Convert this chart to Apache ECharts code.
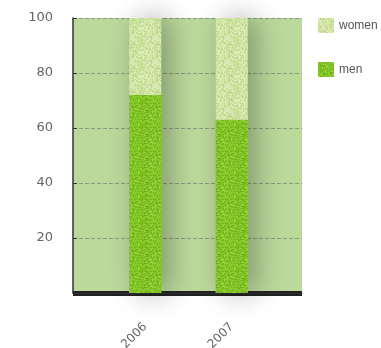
<!DOCTYPE html>
<html>
<head>
<meta charset="utf-8">
<script src="https://cdn.jsdelivr.net/npm/echarts@6/dist/echarts.min.js"></script>
<style>
html,body{margin:0;padding:0;background:#fff;}
#chart{width:381px;height:348px;}
</style>
</head>
<body>
<div id="chart"></div>
<script>
var categories = ['2006', '2007'];
var menValues = [72, 63];
var womenValues = [28, 37];
var seriesNames = ['women', 'men'];
var yTicks = [20, 40, 60, 80, 100];

function makeTexture(base, light, dark, seed) {
  var c = document.createElement('canvas');
  c.width = 24; c.height = 24;
  var ctx = c.getContext('2d');
  ctx.fillStyle = base;
  ctx.fillRect(0, 0, 24, 24);
  var s = seed;
  function rnd() { s = (s * 9301 + 49297) % 233280; return s / 233280; }
  for (var y = 0; y < 24; y++) {
    for (var x = 0; x < 24; x++) {
      var r = rnd();
      if (r < 0.25) { ctx.fillStyle = light; ctx.fillRect(x, y, 1, 1); }
      else if (r > 0.78) { ctx.fillStyle = dark; ctx.fillRect(x, y, 1, 1); }
    }
  }
  return c;
}
var menTex = makeTexture('#7dc220', '#9ad23c', '#6aae18', 7);
var womenTex = makeTexture('#cfe3a2', '#e2eec0', '#b9d886', 13);

var chart = echarts.init(document.getElementById('chart'), null, {renderer: 'canvas'});
var labelFont = 'DejaVu Sans';
chart.setOption({
  animation: false,
  legend: {
    orient: 'vertical',
    left: 313, top: 13,
    itemWidth: 16, itemHeight: 15, itemGap: 29,
    icon: 'rect',
    data: seriesNames,
    textStyle: {fontFamily: 'Liberation Sans', fontSize: 12, color: '#555'}
  },
  grid: [
    {left: 73, right: 79, top: 18, bottom: 55, show: true, backgroundColor: '#bcd99c', borderWidth: 0, outerBoundsMode: 'none', containLabel: false},
    {left: 102, right: 106, top: 18, bottom: 55, outerBoundsMode: 'none', containLabel: false}
  ],
  xAxis: [
    {gridIndex: 0, type: 'value', min: 0, max: 1, offset: 2.5,
     axisLine: {show: true, lineStyle: {color: '#222', width: 5, cap: 'butt'}},
     axisTick: {show: false}, axisLabel: {show: false}, splitLine: {show: false}},
    {gridIndex: 0, type: 'value', min: 0, max: 1, position: 'top',
     axisLine: {show: true, lineStyle: {color: '#333', width: 1, type: 'dotted'}},
     axisTick: {show: false}, axisLabel: {show: false}, splitLine: {show: false}},
    {gridIndex: 1, type: 'category', data: categories,
     axisLine: {show: false}, axisTick: {show: false},
     axisLabel: {rotate: 45, margin: 32, fontFamily: labelFont, fontSize: 12, color: '#666'}}
  ],
  yAxis: [
    {gridIndex: 0, type: 'value', min: 0, max: 100, interval: 20,
     axisLine: {show: true, lineStyle: {color: '#333', width: 1.5}},
     axisTick: {show: false},
     axisLabel: {margin: 20, fontFamily: labelFont, fontSize: 13, color: '#666',
       formatter: function (v) { return yTicks.indexOf(v) >= 0 ? String(v) : ''; }},
     splitLine: {show: true, lineStyle: {color: '#8a9a7a', type: [4, 2], width: 1}}},
    {gridIndex: 0, type: 'value', min: 0, max: 100, interval: 20, position: 'right',
     axisLine: {show: false},
     axisTick: {show: true, length: 4, lineStyle: {color: '#333'}},
     axisLabel: {show: false}, splitLine: {show: false}},
    {gridIndex: 1, type: 'value', min: 0, max: 100, interval: 20, show: false}
  ],
  series: [
    {name: 'men', type: 'bar', stack: 'total', xAxisIndex: 2, yAxisIndex: 2,
     barWidth: 32, data: menValues,
     showBackground: true,
     backgroundStyle: {color: '#9ccd5a', shadowBlur: 28, shadowColor: 'rgba(0,0,0,0.32)', shadowOffsetX: 8},
     itemStyle: {color: {image: menTex, repeat: 'repeat'}}},
    {name: 'women', type: 'bar', stack: 'total', xAxisIndex: 2, yAxisIndex: 2,
     barWidth: 32, data: womenValues,
     itemStyle: {color: {image: womenTex, repeat: 'repeat'}}}
  ]
});
</script>
</body>
</html>
